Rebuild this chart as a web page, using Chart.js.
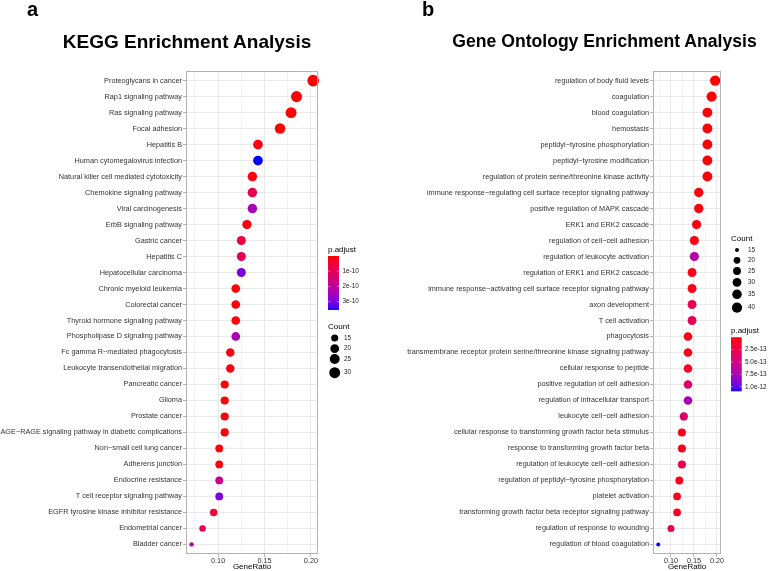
<!DOCTYPE html>
<html><head><meta charset="utf-8">
<script src="https://cdn.jsdelivr.net/npm/chart.js@4.4.0/dist/chart.umd.min.js"></script>
<style>
html,body{margin:0;padding:0;background:#fff;}
#wrap{position:relative;width:784px;height:571px;overflow:hidden;background:#fff;}
#wrap canvas{position:absolute;top:0;}
.lbl{position:absolute;font-family:"Liberation Sans",Arial,Helvetica,sans-serif;font-weight:bold;color:#000;line-height:1;white-space:nowrap;}
</style></head><body>
<div id="wrap">
<canvas id="c1" width="392" height="571" style="left:0px;width:392px;height:571px"></canvas>
<canvas id="c2" width="392" height="571" style="left:392px;width:392px;height:571px"></canvas>
<div class="lbl" style="left:27px;top:-1px;font-size:20px">a</div>
<div class="lbl" style="left:422px;top:-1px;font-size:20px">b</div>
<div class="lbl" style="left:-13px;width:400px;text-align:center;top:32px;font-size:19px">KEGG Enrichment Analysis</div>
<div class="lbl" style="left:404.5px;width:400px;text-align:center;top:32.8px;font-size:17.6px">Gene Ontology Enrichment Analysis</div>
</div>
<script>
// ---------------- DATA ----------------
const keggTerms = [
  "Proteoglycans in cancer","Rap1 signaling pathway","Ras signaling pathway","Focal adhesion",
  "Hepatitis B","Human cytomegalovirus infection","Natural killer cell mediated cytotoxicity",
  "Chemokine signaling pathway","Viral carcinogenesis","ErbB signaling pathway","Gastric cancer",
  "Hepatitis C","Hepatocellular carcinoma","Chronic myeloid leukemia","Colorectal cancer",
  "Thyroid hormone signaling pathway","Phospholipase D signaling pathway",
  "Fc gamma R\u2212mediated phagocytosis","Leukocyte transendothelial migration","Pancreatic cancer",
  "Glioma","Prostate cancer","AGE\u2212RAGE signaling pathway in diabetic complications",
  "Non\u2212small cell lung cancer","Adherens junction","Endocrine resistance",
  "T cell receptor signaling pathway","EGFR tyrosine kinase inhibitor resistance",
  "Endometrial cancer","Bladder cancer"
];
const keggGeneRatio = [0.2024,0.1845,0.1786,0.1667,0.1429,0.1429,0.1369,0.1369,0.1369,0.1310,
  0.1250,0.1250,0.1250,0.1190,0.1190,0.1190,0.1190,0.1131,0.1131,0.1071,
  0.1071,0.1071,0.1071,0.1012,0.1012,0.1012,0.1012,0.0952,0.0833,0.0714];
const keggCount = [34,31,30,28,24,24,23,23,23,22,21,21,21,20,20,20,20,19,19,18,18,18,18,17,17,17,17,16,14,12];
const keggPAdjust = [1.0e-12,3e-12,3e-12,2e-12,1.2e-11,3.5e-10,1.0e-11,8.75e-11,2.45e-10,8e-12,
  7e-11,9.5e-11,2.98e-10,6e-12,6e-12,8e-12,2.38e-10,1.0e-11,1.0e-11,4e-12,
  5e-12,6e-12,7e-12,6e-12,8e-12,1.75e-10,2.97e-10,5.2e-11,9.8e-11,2.17e-10];

const goTerms = [
  "regulation of body fluid levels","coagulation","blood coagulation","hemostasis",
  "peptidyl\u2212tyrosine phosphorylation","peptidyl\u2212tyrosine modification",
  "regulation of protein serine/threonine kinase activity",
  "immune response\u2212regulating cell surface receptor signaling pathway",
  "positive regulation of MAPK cascade","ERK1 and ERK2 cascade","regulation of cell\u2212cell adhesion",
  "regulation of leukocyte activation","regulation of ERK1 and ERK2 cascade",
  "immune response\u2212activating cell surface receptor signaling pathway","axon development",
  "T cell activation","phagocytosis",
  "transmembrane receptor protein serine/threonine kinase signaling pathway",
  "cellular response to peptide","positive regulation of cell adhesion",
  "regulation of intracellular transport","leukocyte cell\u2212cell adhesion",
  "cellular response to transforming growth factor beta stimulus",
  "response to transforming growth factor beta","regulation of leukocyte cell\u2212cell adhesion",
  "regulation of peptidyl\u2212tyrosine phosphorylation","platelet activation",
  "transforming growth factor beta receptor signaling pathway","regulation of response to wounding",
  "regulation of blood coagulation"
];
const goGeneRatio = [0.1960,0.1883,0.1792,0.1792,0.1792,0.1792,0.1792,0.1604,0.1604,0.1556,
  0.1508,0.1508,0.1458,0.1458,0.1458,0.1458,0.1369,0.1369,0.1369,0.1369,
  0.1369,0.1279,0.1238,0.1238,0.1238,0.1181,0.1133,0.1133,0.1000,0.0723];
const goCount = [42,40,38,38,38,38,38,34,34,33,32,32,31,31,31,31,29,29,29,29,29,27,26,26,26,25,24,24,21,15];
const goPAdjust = [1e-15,5e-15,1e-14,1e-14,1.5e-14,1.5e-14,2e-14,2.5e-14,3e-14,3e-14,
  4e-14,6.5e-13,4e-14,4.5e-14,2.7e-13,3.0e-13,5e-14,5e-14,1.1e-13,3.8e-13,
  7.3e-13,3.8e-13,5e-14,6e-14,2.4e-13,6e-14,6e-14,6e-14,3.0e-13,1.08e-12];

const xTickValues = [0.075,0.10,0.125,0.15,0.175,0.20];
const xTickLabels = ["","0.10","","0.15","","0.20"];
const keggCountBreaks = [15,20,25,30];
const keggPBreaks = [1e-10,2e-10,3e-10];
const keggPBreakLabels = ["1e-10","2e-10","3e-10"];
const goCountBreaks = [15,20,25,30,35,40];
const goPBreaks = [2.5e-13,5e-13,7.5e-13,1e-12];
const goPBreakLabels = ["2.5e-13","5.0e-13","7.5e-13","1.0e-12"];

// ---------------- STYLE HELPERS ----------------
const FONT = '"Liberation Sans", Arial, Helvetica, sans-serif';
function lin(c){c/=255;return c<=0.04045?c/12.92:Math.pow((c+0.055)/1.055,2.4);}
function unlin(c){c=c<=0.0031308?12.92*c:1.055*Math.pow(c,1/2.4)-0.055;return Math.round(Math.max(0,Math.min(1,c))*255);}
function rgb2lab(r,g,b){
  const R=lin(r),G=lin(g),B=lin(b);
  const X=(0.4124*R+0.3576*G+0.1805*B)/0.95047, Y=0.2126*R+0.7152*G+0.0722*B, Z=(0.0193*R+0.1192*G+0.9505*B)/1.08883;
  const f=t=>t>0.008856?Math.cbrt(t):7.787*t+16/116;
  const fx=f(X),fy=f(Y),fz=f(Z);
  return [116*fy-16,500*(fx-fy),200*(fy-fz)];
}
function lab2rgb(L,a,b){
  const fy=(L+16)/116, fx=fy+a/500, fz=fy-b/200;
  const fi=t=>{const t3=t*t*t;return t3>0.008856?t3:(t-16/116)/7.787;};
  const X=fi(fx)*0.95047, Y=fi(fy), Z=fi(fz)*1.08883;
  const R=3.2406*X-1.5372*Y-0.4986*Z, G=-0.9689*X+1.8758*Y+0.0415*Z, B=0.0557*X-0.2040*Y+1.0570*Z;
  return `rgb(${unlin(R)},${unlin(G)},${unlin(B)})`;
}
const LAB_LOW = rgb2lab(255,0,0), LAB_HIGH = rgb2lab(0,0,255);
function ramp(t){t=Math.max(0,Math.min(1,t));return lab2rgb(LAB_LOW[0]+(LAB_HIGH[0]-LAB_LOW[0])*t,LAB_LOW[1]+(LAB_HIGH[1]-LAB_LOW[1])*t,LAB_LOW[2]+(LAB_HIGH[2]-LAB_LOW[2])*t);}

// ---------------- PLUGINS ----------------
const panelBorder = {
  id:'panelBorder',
  afterDatasetsDraw(chart){
    const a=chart.chartArea, ctx=chart.ctx;
    ctx.save(); ctx.strokeStyle='#b3b3b3'; ctx.lineWidth=1;
    ctx.strokeRect(Math.round(a.left)+0.5, Math.round(a.top)+0.5, Math.round(a.right-a.left)-1, Math.round(a.bottom-a.top)-1);
    ctx.restore();
  }
};
const ggLegend = {
  id:'ggLegend',
  afterDraw(chart, args, o){
    if(!o || !o.bar) return;
    const ctx=chart.ctx; ctx.save();
    ctx.textBaseline='middle'; ctx.textAlign='left';
    // colour bar
    const b=o.bar;
    ctx.fillStyle='#000'; ctx.font=`8px ${FONT}`;
    ctx.fillText('p.adjust', b.x, b.titleY);
    const h=b.bottom-b.top, n=Math.ceil(h*2);
    for(let i=0;i<n;i++){
      ctx.fillStyle=ramp((i+0.5)/n);
      ctx.fillRect(b.x, b.top+i*h/n, b.w, h/n+0.6);
    }
    ctx.font=`6.4px ${FONT}`;
    b.breaks.forEach((v,i)=>{
      const y=b.top+(v-b.min)/(b.max-b.min)*(b.bottom-b.top);
      ctx.strokeStyle='rgba(255,255,255,0.8)'; ctx.lineWidth=0.5;
      ctx.beginPath(); ctx.moveTo(b.x,y); ctx.lineTo(b.x+b.w*0.2,y);
      ctx.moveTo(b.x+b.w*0.8,y); ctx.lineTo(b.x+b.w,y); ctx.stroke();
      ctx.fillStyle='#222'; ctx.fillText(b.labels[i], b.x+b.w+3.5, y);
    });
    // size legend
    const s=o.size;
    ctx.fillStyle='#000'; ctx.font=`8px ${FONT}`;
    ctx.fillText('Count', s.titleX, s.titleY);
    ctx.font=`6.4px ${FONT}`;
    s.breaks.forEach((c,i)=>{
      const y=s.ys[i];
      ctx.fillStyle='#000'; ctx.beginPath(); ctx.arc(s.x,y,s.radius(c),0,Math.PI*2); ctx.fill();
      ctx.fillStyle='#222'; ctx.fillText(String(c), s.labelX, y);
    });
    ctx.restore();
  }
};

function makeRadius(counts,rMin,rMax){
  const cMin=Math.min(...counts), cMax=Math.max(...counts);
  return c=>rMin+(rMax-rMin)*Math.sqrt(Math.max(0,(c-cMin)/(cMax-cMin)));
}

function makeChart(id, terms, ratio, count, padj, cfg){
  const pMin=Math.min(...padj), pMax=Math.max(...padj);
  const radius=makeRadius(count,cfg.rMin,cfg.rMax);
  const colors=padj.map(p=>ramp((p-pMin)/(pMax-pMin)));
  const legendOpts = {
    bar:Object.assign({}, cfg.bar, {min:pMin,max:pMax}),
    size:Object.assign({}, cfg.size, {radius})
  };
  return new Chart(document.getElementById(id), {
    type:'scatter',
    data:{datasets:[{
      data: ratio.map((v,i)=>({x:v,y:i})),
      pointRadius: count.map(radius),
      pointHoverRadius: count.map(radius),
      pointBackgroundColor: colors,
      pointBorderWidth:0,
      pointBorderColor:'rgba(0,0,0,0)',
      clip:false
    }]},
    options:{
      responsive:false, animation:false, events:[],
      layout:{padding:{left:0,right:cfg.padRight,top:71,bottom:0}},
      plugins:{legend:{display:false},tooltip:{enabled:false},title:{display:false},ggLegend:legendOpts},
      scales:{
        x:{
          type:'linear', min:cfg.xMin, max:cfg.xMax,
          afterBuildTicks:s=>{s.ticks=xTickValues.map(v=>({value:v}));},
          afterFit:s=>{s.height=17;},
          border:{display:false},
          grid:{
            color:ctx=>xTickLabels[ctx.index]?'#e9e9e9':'#f3f3f3',
            lineWidth:1, drawTicks:true, tickLength:3,
            tickColor:ctx=>xTickLabels[ctx.index]?'#b3b3b3':'rgba(0,0,0,0)'
          },
          ticks:{callback:(v,i)=>xTickLabels[i], font:{family:FONT,size:7.3}, color:'#333', padding:0, maxRotation:0, autoSkip:false},
          title:{display:true,text:'GeneRatio',font:{family:FONT,size:8,lineHeight:1},color:'#000',padding:{top:0,bottom:0}}
        },
        y:{
          type:'linear', reverse:true, min:-0.6, max:terms.length-0.4,
          afterBuildTicks:s=>{s.ticks=terms.map((t,i)=>({value:i}));},
          afterFit:s=>{s.width=cfg.yWidth;},
          border:{display:false},
          grid:{color:'#e9e9e9', lineWidth:1, drawTicks:true, tickLength:3, tickColor:'#b3b3b3'},
          ticks:{callback:v=>terms[v], font:{family:FONT,size:7.3}, color:'#333', padding:1, autoSkip:false}
        }
      }
    },
    plugins:[panelBorder, ggLegend]
  });
}

makeChart('c1', keggTerms, keggGeneRatio, keggCount, keggPAdjust, {
  xMin:0.0654, xMax:0.2076, yWidth:186, padRight:74, rMin:2.2, rMax:5.8,
  bar:{x:328, w:11, top:256, bottom:309.3, titleY:250, breaks:keggPBreaks, labels:keggPBreakLabels},
  size:{x:334.7, titleX:328, titleY:326.7, labelX:344, ys:[338,348.7,359,372.7], breaks:keggCountBreaks}
});
makeChart('c2', goTerms, goGeneRatio, goCount, goPAdjust, {
  xMin:0.0609, xMax:0.2087, yWidth:261, padRight:63, rMin:2.0, rMax:5.2,
  bar:{x:339, w:10.5, top:337.3, bottom:390.7, titleY:331, breaks:goPBreaks, labels:goPBreakLabels},
  size:{x:345, titleX:339, titleY:238.5, labelX:356, ys:[250,260.3,271,282.3,294.3,307.7], breaks:goCountBreaks}
});
</script>
</body></html>
